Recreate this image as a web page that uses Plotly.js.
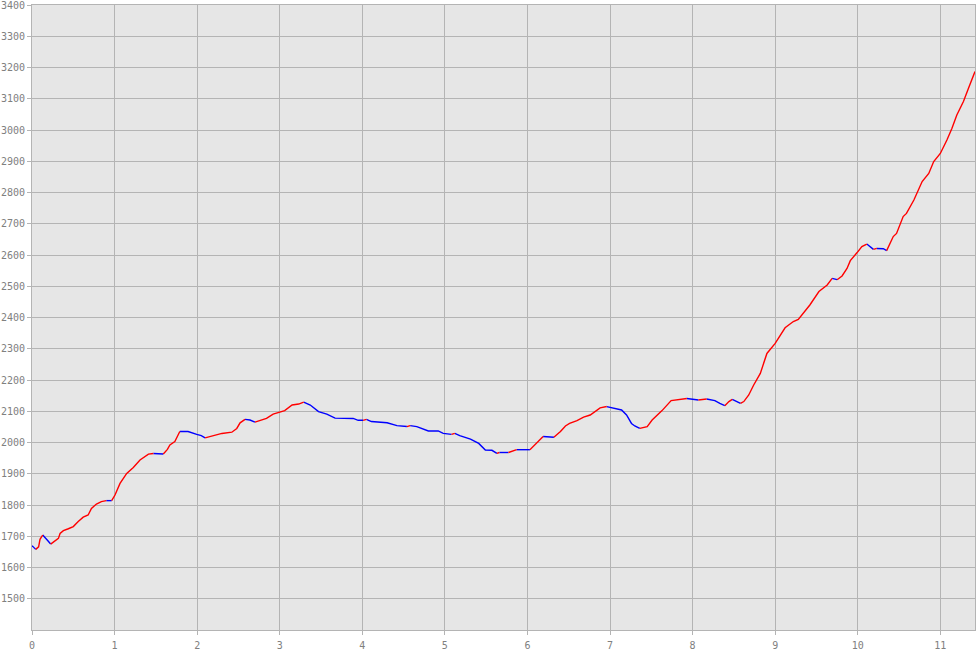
<!DOCTYPE html>
<html>
<head>
<meta charset="utf-8">
<script src="https://cdn.plot.ly/plotly-3.0.1.min.js"></script>
<style>
  html, body { margin: 0; padding: 0; background: #ffffff; }
  #chart { width: 980px; height: 650px; }
</style>
</head>
<body>
<div id="chart"></div>
<script>
// Distance along route (km)
const distance = [
  0.00, 0.02, 0.045, 0.08, 0.097, 0.13, 0.16, 0.20, 0.226, 0.28,
  0.32, 0.34, 0.38, 0.44, 0.50, 0.56, 0.62, 0.68, 0.72, 0.78,
  0.84, 0.90, 0.965, 1.005, 1.066, 1.147, 1.227, 1.308, 1.41, 1.47,
  1.53, 1.59, 1.64, 1.67, 1.73, 1.79, 1.89, 1.995, 2.05, 2.096,
  2.18, 2.30, 2.42, 2.48, 2.52, 2.58, 2.64, 2.70, 2.76, 2.84,
  2.92, 3.00, 3.06, 3.15, 3.23, 3.29, 3.37, 3.47, 3.57, 3.67,
  3.78, 3.89, 3.95, 4.01, 4.05, 4.11, 4.30, 4.42, 4.54, 4.58,
  4.66, 4.80, 4.92, 4.98, 5.08, 5.12, 5.18, 5.31, 5.41, 5.49,
  5.57, 5.63, 5.66, 5.77, 5.82, 5.87, 6.03, 6.11, 6.19, 6.25, 6.32,
  6.40, 6.46, 6.51, 6.60, 6.68, 6.76, 6.82, 6.88, 6.96, 7.08,
  7.14, 7.20, 7.26, 7.30, 7.36, 7.45, 7.51, 7.63, 7.74, 7.81,
  7.93, 8.07, 8.17, 8.27, 8.33, 8.39, 8.44, 8.48, 8.54, 8.58,
  8.62, 8.68, 8.74, 8.82, 8.90, 9.00, 9.12, 9.22, 9.28, 9.42,
  9.53, 9.63, 9.69, 9.75, 9.81, 9.87, 9.91, 9.99, 10.05, 10.11,
  10.19, 10.23, 10.31, 10.35, 10.43, 10.47, 10.55, 10.59, 10.68, 10.78,
  10.86, 10.92, 11.00, 11.08, 11.14, 11.20, 11.28, 11.34, 11.40, 11.42
];
// Elevation (m)
const elevation = [
  1670, 1665, 1658, 1666, 1690, 1704, 1696, 1683, 1675, 1685,
  1693, 1709, 1718, 1724, 1731, 1747, 1761, 1768, 1789, 1803,
  1811, 1814, 1814, 1832, 1869, 1901, 1920, 1944, 1963, 1965,
  1965, 1963, 1978, 1992, 2003, 2035, 2035, 2026, 2022, 2015,
  2021, 2029, 2033, 2045, 2063, 2074, 2072, 2065, 2070, 2077,
  2091, 2098, 2102, 2120, 2123, 2129, 2120, 2099, 2091, 2078,
  2077, 2077, 2071, 2071, 2074, 2067, 2063, 2054, 2051, 2054,
  2051, 2037, 2037, 2029, 2026, 2029, 2022, 2011, 1997, 1976,
  1975, 1965, 1968, 1968, 1973, 1977, 1977, 1999, 2019, 2017, 2017,
  2035, 2053, 2061, 2070, 2081, 2088, 2099, 2111, 2115, 2109,
  2104, 2088, 2061, 2053, 2045, 2051, 2072, 2102, 2134, 2136,
  2141, 2136, 2139, 2134, 2125, 2118, 2131, 2138, 2131, 2125,
  2131, 2152, 2184, 2221, 2285, 2317, 2367, 2387, 2394, 2440,
  2483, 2504, 2525, 2521, 2533, 2557, 2582, 2607, 2627, 2635,
  2618, 2621, 2620, 2614, 2659, 2669, 2723, 2733, 2776, 2835,
  2861, 2899, 2925, 2968, 3005, 3048, 3091, 3133, 3176, 3187
];
const xTicks = [0, 1, 2, 3, 4, 5, 6, 7, 8, 9, 10, 11];
const yTicks = [1500, 1600, 1700, 1800, 1900, 2000, 2100, 2200, 2300, 2400,
                2500, 2600, 2700, 2800, 2900, 3000, 3100, 3200, 3300, 3400];

// Split the profile into climbing (red) and non-climbing (blue) runs
function buildRuns(rising) {
  const xs = [], ys = [];
  let i = 1;
  while (i < distance.length) {
    const up = elevation[i] > elevation[i - 1];
    if (up === rising) {
      let j = i;
      while (j + 1 < distance.length && (elevation[j + 1] > elevation[j]) === rising) j++;
      for (let k = i - 1; k <= j; k++) { xs.push(distance[k]); ys.push(elevation[k]); }
      xs.push(null); ys.push(null);
      i = j + 1;
    } else {
      i++;
    }
  }
  return { xs, ys };
}
const upRuns = buildRuns(true);
const downRuns = buildRuns(false);

const traces = [
  { x: downRuns.xs, y: downRuns.ys, type: 'scatter', mode: 'lines',
    line: { color: '#0000ff', width: 1.4 }, connectgaps: false, hoverinfo: 'skip' },
  { x: upRuns.xs, y: upRuns.ys, type: 'scatter', mode: 'lines',
    line: { color: '#ff0000', width: 1.4 }, connectgaps: false, hoverinfo: 'skip' }
];

const axisCommon = {
  showgrid: true, gridcolor: '#b4b4b4', gridwidth: 1,
  showline: true, linecolor: '#b4b4b4', linewidth: 1, mirror: true,
  ticks: 'outside', ticklen: 4, tickcolor: '#b4b4b4', tickwidth: 1,
  zeroline: false, fixedrange: true, ticklabeloverflow: 'allow',
  tickfont: { family: 'DejaVu Sans Mono, monospace', size: 10, color: '#808080' }
};

const layout = {
  width: 980, height: 650,
  margin: { l: 32, r: 5, t: 5, b: 20 },
  paper_bgcolor: '#ffffff', plot_bgcolor: '#e6e6e6',
  showlegend: false,
  xaxis: Object.assign({}, axisCommon, {
    range: [0, 11.42], tickmode: 'array', tickvals: xTicks,
    ticktext: xTicks.map(String), ticklabelstandoff: 2
  }),
  yaxis: Object.assign({}, axisCommon, {
    range: [1400, 3400], tickmode: 'array', tickvals: yTicks,
    ticktext: yTicks.map(String)
  })
};

Plotly.newPlot('chart', traces, layout, { displayModeBar: false, staticPlot: true });
</script>
</body>
</html>
